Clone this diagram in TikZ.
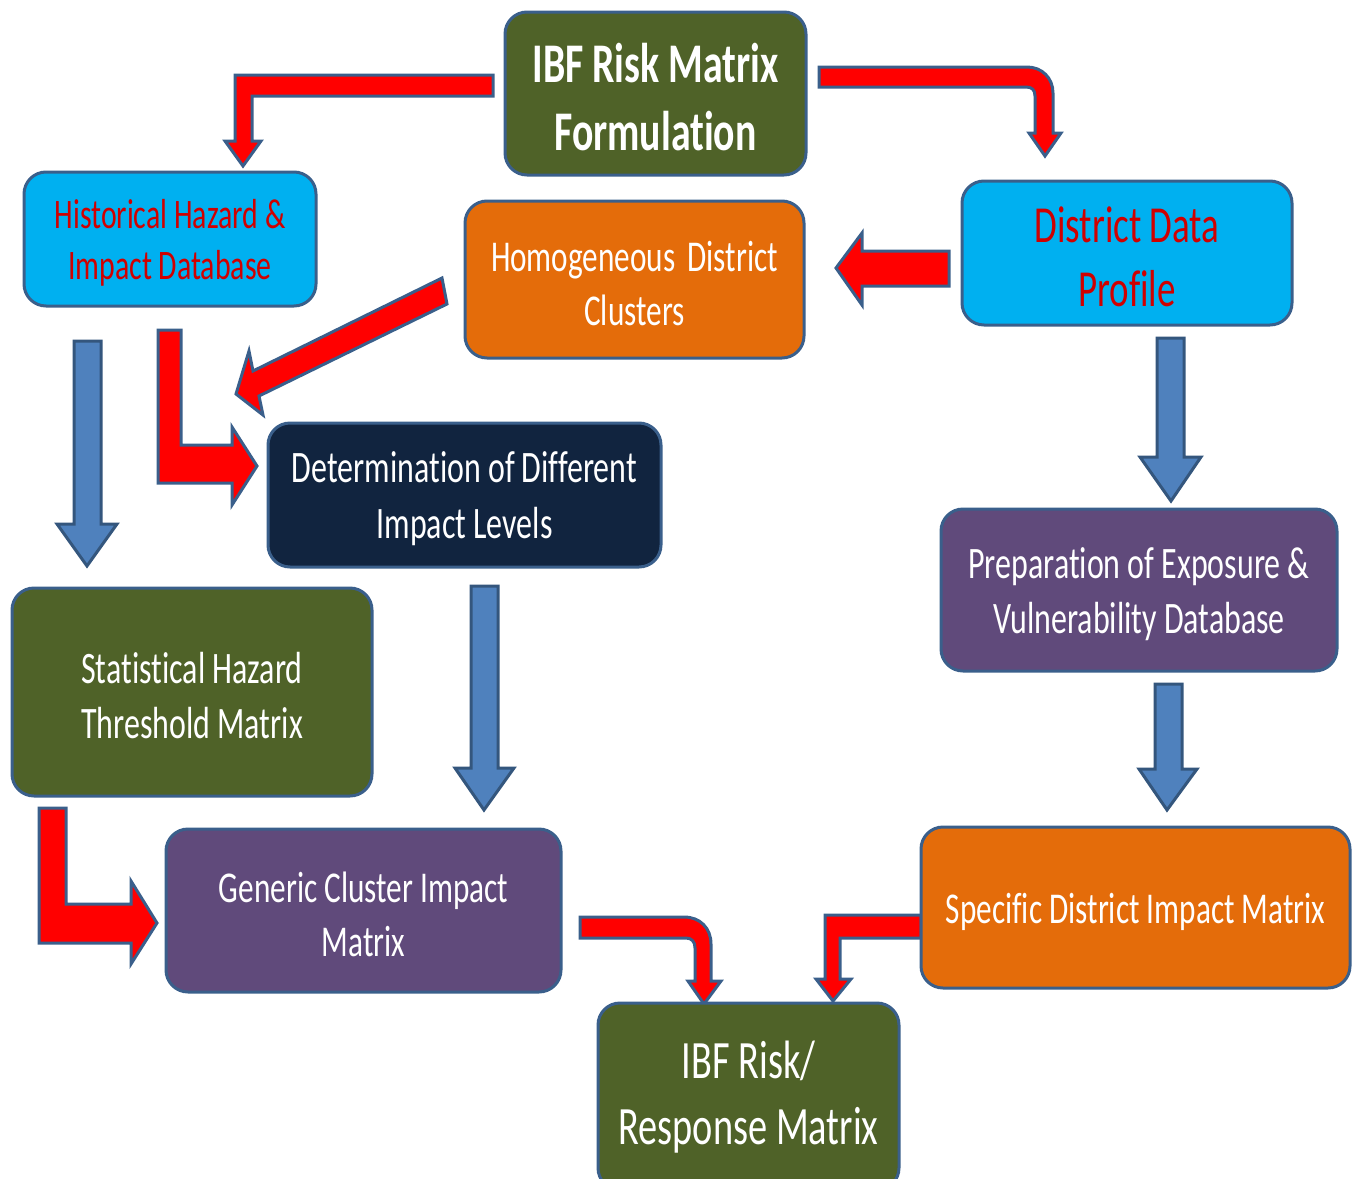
\documentclass[tikz,border=0pt]{standalone}
\usepackage{fontspec}
\setmainfont{Carlito}[FakeStretch=0.71,Ligatures=NoCommon]
\definecolor{olive}{HTML}{4F6228}
\definecolor{cyanbox}{HTML}{00B0F0}
\definecolor{orangebox}{HTML}{E46C0A}
\definecolor{navybox}{HTML}{11243F}
\definecolor{purplebox}{HTML}{604A7B}
\definecolor{edge}{HTML}{3A5F8B}
\definecolor{redtext}{HTML}{D00000}
\definecolor{bluearr}{HTML}{4F81BD}
\begin{document}
\begin{tikzpicture}[x=1pt,y=-1pt,
  box/.style={draw=edge, line width=3pt, rounded corners=22pt, inner sep=0pt},
  txt/.style={align=center, inner sep=0pt, yshift=-4pt},
  redarrow/.style={fill=red, draw=edge, line width=3pt, line join=miter},
  bluearrow/.style={fill=bluearr, draw=edge!90!black, line width=3pt, line join=miter},
  fs/.style 2 args={font=\fontsize{#1}{#2}\selectfont}]
\useasboundingbox (0,0) rectangle (1360,1178);

% ---- block arrows (red) ----
\draw[redarrow] (493,75) -- (235,75) -- (235,141) -- (225,141) -- (243,166) -- (261,141) -- (252,141) -- (252,96) -- (493,96) -- cycle;
\draw[redarrow] (819,67) -- (1027,67) .. controls (1042,67) and (1053,78) .. (1053,93) -- (1053,133) -- (1061,133) -- (1045,156) -- (1029,133) -- (1035,133) -- (1035,96) .. controls (1035,90) and (1032,87) .. (1026,87) -- (819,87) -- cycle;
\draw[redarrow] (949,251) -- (862,251) -- (862,233) -- (836,268) -- (862,305) -- (862,286) -- (949,286) -- cycle;
\draw[redarrow] (442,278) -- (253,371) -- (249,351) -- (236,394) -- (263,415) -- (259,396) -- (447,304) -- cycle;
\draw[redarrow] (158,330) -- (181,330) -- (181,445) -- (232,445) -- (232,427) -- (257,466) -- (232,505) -- (232,483) -- (158,483) -- cycle;
\draw[redarrow] (39,808) -- (66,808) -- (66,904) -- (131,904) -- (131,881) -- (157,923) -- (131,964) -- (131,943) -- (39,943) -- cycle;
\draw[redarrow] (580,917) -- (684,917) .. controls (700,917) and (711,928) .. (711,944) -- (711,981) -- (721,981) -- (704,1004) -- (688,981) -- (695,981) -- (695,948) .. controls (695,942) and (692,938) .. (686,938) -- (580,938) -- cycle;
\draw[redarrow] (921,915) -- (825,915) -- (825,979) -- (816,979) -- (833,1001) -- (851,979) -- (840,979) -- (840,938) -- (921,938) -- cycle;

% ---- block arrows (blue) ----
\draw[bluearrow] (74,341) -- (101,341) -- (101,524) -- (117,524) -- (87,566) -- (57,524) -- (74,524) -- cycle;
\draw[bluearrow] (471,586) -- (498,586) -- (498,768) -- (514,768) -- (484,810) -- (455,768) -- (471,768) -- cycle;
\draw[bluearrow] (1157,338) -- (1184,338) -- (1184,457) -- (1201,457) -- (1171,501) -- (1140,457) -- (1157,457) -- cycle;
\draw[bluearrow] (1155,684) -- (1182,684) -- (1182,769) -- (1197,769) -- (1167,810) -- (1139,769) -- (1155,769) -- cycle;

% ---- boxes ----
\node[box, fill=olive, minimum width=301pt, minimum height=163pt] (top) at (655.5,93.5) {};
\node[txt, text=white, fs={56}{68}] (top-t) at (top.center) {\bfseries IBF Risk Matrix\\\bfseries Formulation};

\node[box, fill=cyanbox, minimum width=292pt, minimum height=134pt] (hist) at (170,239) {};
\node[txt, text=redtext, fs={42}{51}] (hist-t) at (hist.center) {Historical Hazard \&\\Impact Database};

\node[box, fill=orangebox, minimum width=339pt, minimum height=157pt] (homog) at (634.5,279.5) {};
\node[txt, text=white, fs={44}{54}] (homog-t) at (homog.center) {Homogeneous\hspace{5pt} District\\Clusters};

\node[box, fill=cyanbox, minimum width=330pt, minimum height=144pt] (district) at (1127,253) {};
\node[txt, text=redtext, fs={52}{64}] (district-t) at (district.center) {District Data\\Profile};

\node[box, fill=navybox, minimum width=393pt, minimum height=144pt] (determ) at (464.5,495) {};
\node[txt, text=white, fs={45}{56}] (determ-t) at (determ.center) {Determination of Different\\Impact Levels};

\node[box, fill=purplebox, minimum width=396pt, minimum height=162pt] (prep) at (1139,590) {};
\node[txt, text=white, fs={45}{55}] (prep-t) at (prep.center) {Preparation of Exposure \&\\Vulnerability Database};

\node[box, fill=olive, minimum width=360pt, minimum height=208pt] (stat) at (192,692) {};
\node[txt, text=white, fs={45}{55}] (stat-t) at (stat.center) {Statistical Hazard\\Threshold Matrix};

\node[box, fill=purplebox, minimum width=395pt, minimum height=163pt] (generic) at (363.5,910.5) {};
\node[txt, text=white, fs={44}{54}] (generic-t) at (generic.center) {Generic Cluster Impact\\Matrix};

\node[box, fill=orangebox, minimum width=429pt, minimum height=161pt] (specific) at (1135.5,907.5) {};
\node[txt, text=white, fs={44}{54}] (specific-t) at (specific.center) {Specific District Impact Matrix};

\node[box, fill=olive, minimum width=301pt, minimum height=187pt] (ibfrisk) at (748.5,1096.5) {};
\node[txt, text=white, fs={54}{66}] (ibfrisk-t) at (748.5,1093) {IBF Risk/\\Response Matrix};
\end{tikzpicture}
\end{document}
